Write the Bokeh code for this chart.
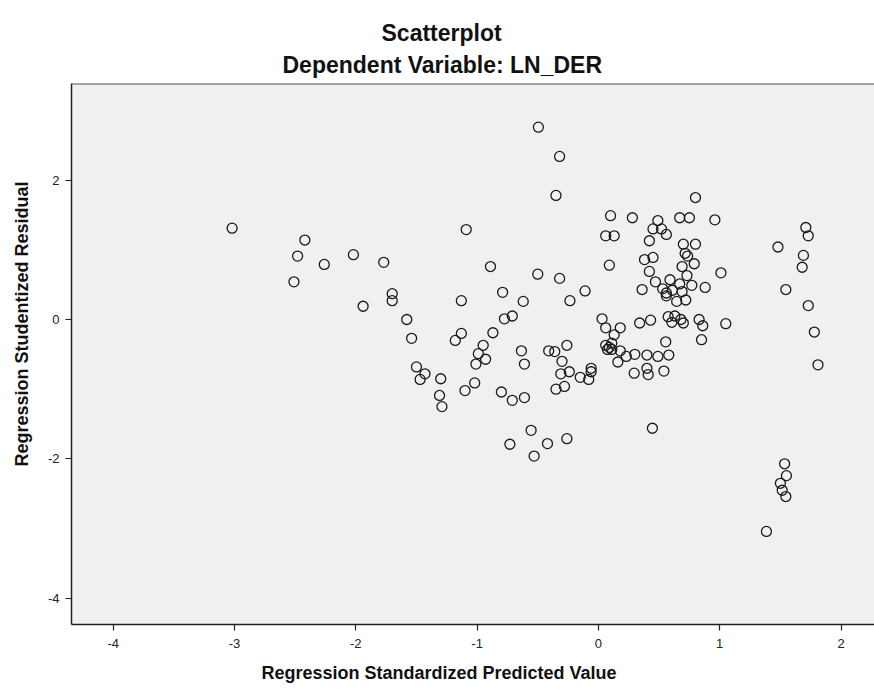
from bokeh.plotting import figure
from bokeh.models import (Title, FixedTicker, Range1d, Span, ColumnDataSource,
                          PrintfTickFormatter)
from bokeh.embed import file_html
from bokeh.resources import INLINE

# Regression Standardized Predicted Value
pred = [
    -3.02, -2.42, -2.48, -2.26, -2.51, -2.02, -1.94, -1.77, -1.70, -1.70,
    -1.58, -1.54, -1.50, -1.43, -1.47, -1.30, -1.31, -1.29, -1.09, -1.13,
    -1.13, -1.18, -1.02, -1.10, -0.95, -0.99, -0.93, -1.01, -0.89, -0.87,
    -0.79, -0.775, -0.71, -0.80, -0.71, -0.61, -0.73, -0.62, -0.635, -0.61,
    -0.555, -0.53, -0.50, -0.495, -0.42, -0.41, -0.36, -0.35, -0.32, -0.32,
    -0.35, -0.28, -0.31, -0.24, -0.30, -0.26, -0.26, -0.235, -0.11, -0.15,
    -0.08, -0.06, -0.06,
    0.03, 0.06, 0.18, 0.13, 0.06, 0.09, 0.11, 0.075, 0.11, 0.18,
    0.23, 0.16, 0.30, 0.40, 0.49, 0.58, 0.555, 0.34, 0.43, 0.575,
    0.63, 0.605, 0.68, 0.70, 0.83, 0.86, 1.05, 0.85, 0.295, 0.40,
    0.41, 0.54, 0.445,
    0.10, 0.28, 0.49, 0.45, 0.52, 0.56, 0.67, 0.75, 0.96, 0.06,
    0.13, 0.42, 0.70, 0.80, 0.80, 0.09, 0.38, 0.45, 0.715, 0.735,
    0.69, 0.79, 0.42, 0.73, 1.01, 0.59, 0.47, 0.67, 0.77, 0.36,
    0.53, 0.56, 0.61, 0.56, 0.69, 0.72, 0.645, 0.88,
    1.48, 1.71, 1.73, 1.69, 1.68, 1.545, 1.73, 1.78, 1.81, 1.535,
    1.55, 1.50, 1.515, 1.545, 1.385,
]

# Regression Studentized Residual
resid = [
    1.31, 1.14, 0.91, 0.79, 0.54, 0.93, 0.19, 0.82, 0.37, 0.27,
    0.00, -0.27, -0.68, -0.78, -0.86, -0.85, -1.09, -1.25, 1.29, 0.27,
    -0.20, -0.30, -0.91, -1.02, -0.37, -0.49, -0.57, -0.64, 0.76, -0.19,
    0.39, 0.01, 0.05, -1.04, -1.16, -1.12, -1.79, 0.26, -0.45, -0.64,
    -1.59, -1.96, 0.65, 2.76, -1.78, -0.45, -0.46, 1.78, 2.34, 0.59,
    -1.00, -0.96, -0.78, -0.75, -0.60, -0.37, -1.71, 0.27, 0.41, -0.83,
    -0.86, -0.70, -0.75,
    0.01, -0.12, -0.12, -0.22, -0.37, -0.40, -0.34, -0.43, -0.43, -0.45,
    -0.53, -0.61, -0.50, -0.51, -0.53, -0.51, -0.32, -0.05, -0.01, 0.04,
    0.05, -0.04, 0.00, -0.05, 0.00, -0.09, -0.06, -0.29, -0.77, -0.70,
    -0.79, -0.74, -1.56,
    1.49, 1.46, 1.42, 1.30, 1.30, 1.22, 1.46, 1.46, 1.43, 1.20,
    1.20, 1.13, 1.08, 1.08, 1.75, 0.78, 0.86, 0.89, 0.95, 0.91,
    0.76, 0.80, 0.69, 0.63, 0.67, 0.57, 0.54, 0.51, 0.49, 0.43,
    0.44, 0.38, 0.42, 0.34, 0.40, 0.28, 0.26, 0.46,
    1.04, 1.32, 1.20, 0.92, 0.75, 0.43, 0.20, -0.18, -0.65, -2.07,
    -2.24, -2.35, -2.45, -2.54, -3.04,
]

x_ticks = [-4, -3, -2, -1, 0, 1, 2]
y_ticks = [-4, -2, 0, 2]

title_main = "Scatterplot"
title_sub = "Dependent Variable: LN_DER"
x_title = "Regression Standardized Predicted Value"
y_title = "Regression Studentized Residual"

FONT = "Liberation Sans"

W, H = 874, 697
FL, FR, FT, FB = 70, 874, 83, 624
X0, X1 = -4.344, 2.276
Y0, Y1 = -4.376, 3.386

src = ColumnDataSource(data=dict(x=pred, y=resid))

p = figure(width=W, height=H, output_backend="svg", toolbar_location=None,
           title=None,
           x_range=Range1d(X0, X1), y_range=Range1d(Y0, Y1),
           min_border_left=FL, min_border_right=W - FR, min_border_top=FT,
           min_border_bottom=H - FB)
p.background_fill_color = "#f0f0f0"
p.border_fill_color = "white"
p.grid.visible = False
p.outline_line_color = None

for ax in (p.xaxis[0], p.yaxis[0]):
    ax.axis_line_color = "#222222"
    ax.axis_line_width = 1.5
    ax.major_tick_line_color = "#222222"
    ax.major_tick_line_width = 1.2
    ax.major_tick_out = 6
    ax.major_tick_in = 0
    ax.minor_tick_line_color = None
    ax.major_label_text_font = FONT
    ax.major_label_text_font_size = "13px"
    ax.major_label_text_color = "#222222"
    ax.formatter = PrintfTickFormatter(format="%d")

p.xaxis.major_label_standoff = 8
p.yaxis.major_label_standoff = 6
p.xaxis.ticker = FixedTicker(ticks=x_ticks)
p.yaxis.ticker = FixedTicker(ticks=y_ticks)

p.add_layout(Span(location=Y1, dimension="width", line_color="#555555", line_width=2))

p.scatter("x", "y", source=src, marker="circle", size=10,
          fill_color=None, line_color="#1a1a1a", line_width=1.3)


def make_title(text, size, offset, standoff, valign, fallback):
    kw = dict(text=text, align="left", offset=offset, vertical_align=valign,
              text_font=FONT, text_font_size=size, text_font_style="bold",
              text_color="#111111")
    try:
        return Title(standoff=standoff, **kw)
    except Exception:
        return Title(standoff=fallback, **kw)


p.add_layout(make_title(title_sub, "23px", 211, 12, "bottom", 12), "above")
p.add_layout(make_title(title_main, "23px", 310, -4, "bottom", 0), "above")
p.add_layout(make_title(x_title, "18px", 190, 21, "bottom", 21), "below")
p.add_layout(make_title(y_title, "18px", 158, 22, "top", 22), "left")

open("out.html", "w").write(file_html(p, INLINE))
